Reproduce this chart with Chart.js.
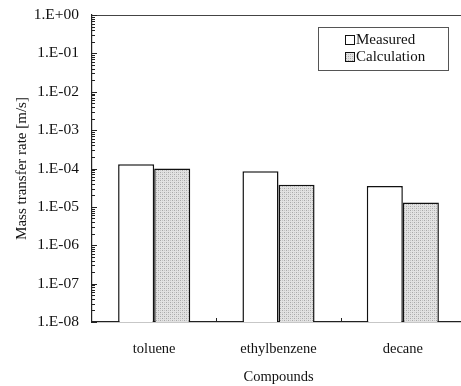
<!DOCTYPE html>
<html><head><meta charset="utf-8">
<script src="https://cdn.jsdelivr.net/npm/chart.js@4/dist/chart.umd.min.js"></script>
<style>html,body{margin:0;padding:0;background:#fff;overflow:hidden}#wrap{width:468px;height:386px}</style>
</head><body><div id="wrap"><canvas id="c"></canvas></div>
<script>
const categories = ['toluene', 'ethylbenzene', 'decane'];
const seriesNames = ['Measured', 'Calculation'];
const measured = [1.3e-4, 8.5e-5, 3.5e-5];
const calculation = [1.0e-4, 3.8e-5, 1.3e-5];
const yMajorValues = [1e-8, 1e-7, 1e-6, 1e-5, 1e-4, 1e-3, 1e-2, 1e-1, 1];
const yMajorLabels = ['1.E-08', '1.E-07', '1.E-06', '1.E-05', '1.E-04', '1.E-03', '1.E-02', '1.E-01', '1.E+00'];
const yTitle = 'Mass transfer rate [m/s]';
const xTitle = 'Compounds';

const FONT = '"Liberation Serif", "Times New Roman", serif';

function makePattern() {
  const p = document.createElement('canvas');
  p.width = 4; p.height = 4;
  const g = p.getContext('2d');
  g.fillStyle = '#e2e2e2'; g.fillRect(0, 0, 4, 4);
  g.fillStyle = '#a8a8a8';
  g.fillRect(0, 0, 1, 1); g.fillRect(2, 2, 1, 1);
  g.fillStyle = '#c4c4c4';
  g.fillRect(2, 0, 1, 1); g.fillRect(0, 2, 1, 1);
  return g.createPattern(p, 'repeat');
}
const calcFill = makePattern();

function isMajor(v) {
  return yMajorValues.some(m => Math.abs(Math.log10(v) - Math.log10(m)) < 1e-6);
}

const decorPlugin = {
  id: 'decor',
  afterDraw(chart) {
    const ctx = chart.ctx, a = chart.chartArea;
    const ys = chart.scales.y, xs = chart.scales.x;
    ctx.save();
    ctx.strokeStyle = '#444'; ctx.lineWidth = 1.2;
    ctx.beginPath(); ctx.moveTo(a.left, a.top + 0.5); ctx.lineTo(a.right, a.top + 0.5); ctx.stroke();
    ctx.strokeStyle = '#222'; ctx.lineWidth = 1;
    ys.ticks.forEach(t => {
      const y = Math.round(ys.getPixelForValue(t.value)) + 0.5;
      const len = isMajor(t.value) ? 5 : 3;
      ctx.beginPath(); ctx.moveTo(a.left, y); ctx.lineTo(a.left + len, y); ctx.stroke();
    });
    for (let i = 1; i < categories.length; i++) {
      const x = Math.round((xs.getPixelForValue(i - 1) + xs.getPixelForValue(i)) / 2) + 0.5;
      ctx.beginPath(); ctx.moveTo(x, a.bottom); ctx.lineTo(x, a.bottom - 4); ctx.stroke();
    }
    const bx = a.right - 147, by = a.top + 12, bw = 130, bh = 43;
    ctx.strokeStyle = '#555'; ctx.lineWidth = 1;
    ctx.strokeRect(bx + 0.5, by + 0.5, bw, bh);
    ctx.font = '15px ' + FONT;
    ctx.textBaseline = 'middle'; ctx.textAlign = 'left';
    chart.data.datasets.forEach((ds, i) => {
      const cy = by + 13 + i * 17;
      ctx.fillStyle = ds.backgroundColor;
      ctx.fillRect(bx + 27, cy - 5, 9, 9);
      ctx.strokeStyle = '#111';
      ctx.strokeRect(bx + 27.5, cy - 4.5, 9, 9);
      ctx.fillStyle = '#111';
      ctx.fillText(ds.label, bx + 38, cy);
    });
    ctx.restore();
  }
};

new Chart(document.getElementById('c'), {
  type: 'bar',
  data: {
    labels: categories,
    datasets: [
      { label: seriesNames[0], data: measured, backgroundColor: '#ffffff', borderColor: '#111', borderWidth: 1.5 },
      { label: seriesNames[1], data: calculation, backgroundColor: calcFill, borderColor: '#111', borderWidth: 1.5 }
    ]
  },
  options: {
    responsive: true,
    maintainAspectRatio: false,
    animation: false,
    layout: { padding: { top: 15, right: 3, left: 0, bottom: 0 } },
    plugins: { legend: { display: false }, tooltip: { enabled: false } },
    datasets: { bar: { categoryPercentage: 0.58, barPercentage: 1.0 } },
    scales: {
      x: {
        grid: { display: false },
        border: { color: '#222', width: 1.2 },
        ticks: { color: '#111', font: { family: FONT, size: 14.5 }, padding: 10 },
        title: { display: true, text: xTitle, color: '#111', font: { family: FONT, size: 14.5 }, padding: { top: 0, bottom: 0 } },
        afterFit(s) { s.height = 64; s.paddingLeft = 0; s.paddingRight = 0; }
      },
      y: {
        type: 'logarithmic',
        min: 1e-8, max: 1,
        grid: { display: false },
        border: { color: '#222', width: 1.2 },
        afterBuildTicks(s) {
          const t = [];
          for (let e = -8; e <= 0; e++) {
            for (let k = 1; k <= 9; k++) {
              const v = k * Math.pow(10, e);
              if (v <= 1.0000001) t.push({ value: v });
            }
          }
          s.ticks = t;
        },
        ticks: {
          autoSkip: false,
          color: '#111',
          font: { family: FONT, size: 15.5 },
          padding: 5,
          callback(v) {
            const i = yMajorValues.findIndex(m => Math.abs(Math.log10(v) - Math.log10(m)) < 1e-6);
            return i >= 0 ? yMajorLabels[i] : '';
          }
        },
        title: { display: true, text: yTitle, color: '#111', font: { family: FONT, size: 15 }, padding: { top: 13, bottom: 0 } },
        afterFit(s) { s.width = 92; s.paddingTop = 0; s.paddingBottom = 0; }
      }
    }
  },
  plugins: [decorPlugin]
});
</script>
</body></html>
